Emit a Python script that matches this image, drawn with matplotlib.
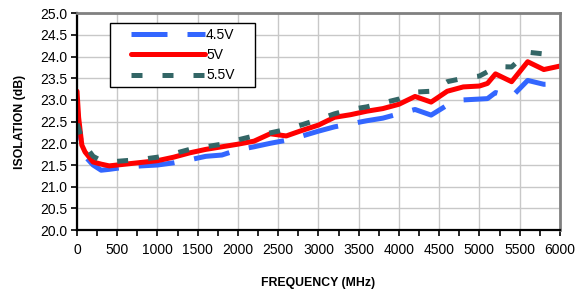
import matplotlib
matplotlib.use("Agg")
import matplotlib.pyplot as plt
from matplotlib.patches import Rectangle
from matplotlib.ticker import MultipleLocator

plt.rcParams['font.family'] = ['Liberation Sans', 'DejaVu Sans']

# frequency points (MHz)
freq = [0, 20, 60, 100, 200, 300, 400, 600, 800, 1000, 1200, 1400, 1600, 1800,
        2000, 2200, 2400, 2600, 2800, 3000, 3200, 3400, 3600, 3800, 4000,
        4200, 4400, 4600, 4800, 5000, 5100, 5200, 5400, 5600, 5800, 6000]

# isolation (dB) per supply voltage
iso_4v5 = [22.9, 22.4, 21.95, 21.7, 21.5, 21.38, 21.4, 21.45, 21.48, 21.5, 21.55,
           21.62, 21.7, 21.73, 21.85, 21.92, 22.0, 22.07, 22.17, 22.28, 22.38,
           22.45, 22.52, 22.58, 22.68, 22.78, 22.65, 22.88, 23.0, 23.02, 23.03,
           23.17, 23.07, 23.45, 23.36, 23.37]
iso_5v = [23.2, 22.6, 21.96, 21.8, 21.57, 21.52, 21.48, 21.52, 21.56, 21.6, 21.68,
          21.78, 21.86, 21.92, 21.98, 22.05, 22.22, 22.17, 22.3, 22.42, 22.6,
          22.66, 22.74, 22.8, 22.9, 23.08, 22.95, 23.2, 23.3, 23.32, 23.38,
          23.6, 23.42, 23.88, 23.7, 23.78]
iso_5v5 = [22.45, 22.35, 22.1, 21.95, 21.7, 21.6, 21.57, 21.6, 21.63, 21.68, 21.76,
           21.86, 21.92, 21.98, 22.08, 22.17, 22.24, 22.32, 22.43, 22.55, 22.68,
           22.78, 22.84, 22.93, 23.02, 23.18, 23.2, 23.42, 23.5, 23.55, 23.65,
           23.77, 23.76, 24.1, 24.06, 24.05]

fig = plt.figure(figsize=(5.79, 2.92), dpi=100)
ax = fig.add_axes([0.133, 0.212, 0.834, 0.743])

lw = 3.6
ax.plot(freq, iso_4v5, color='#3366FF', lw=lw, dashes=(7.2, 4.0), label='4.5V')
ax.plot(freq, iso_5v, color='#FF0000', lw=lw, solid_capstyle='round', label='5V')
ax.plot(freq, iso_5v5, color='#336666', lw=lw, dashes=(2.2, 4.0), label='5.5V')

ax.set_xlim(0, 6000)
ax.set_ylim(20.0, 25.0)
ax.xaxis.set_major_locator(MultipleLocator(500))
ax.xaxis.set_minor_locator(MultipleLocator(250))
ax.yaxis.set_major_locator(MultipleLocator(0.5))
ax.yaxis.set_major_formatter(plt.FormatStrFormatter('%.1f'))

ax.grid(True, which='major', color='#C8C8C8', lw=1.0)
ax.set_axisbelow(True)
ax.tick_params(axis='both', which='major', direction='out', length=4,
               width=1.2, labelsize=10, pad=3)
ax.tick_params(axis='x', which='major', pad=5)
ax.tick_params(axis='x', which='minor', direction='out', length=4, width=1.2)

for side in ['left', 'bottom']:
    ax.spines[side].set_color('black')
    ax.spines[side].set_linewidth(1.6)
for side in ['top', 'right']:
    ax.spines[side].set_color('#808080')
    ax.spines[side].set_linewidth(2.0)

ax.set_xlabel('FREQUENCY (MHz)', fontsize=8.8, fontweight='bold', labelpad=15)
ax.set_ylabel('ISOLATION (dB)', fontsize=8.8, fontweight='bold', labelpad=10)

# legend box drawn separately, like the Excel frame
ax.add_patch(Rectangle((0.068, 0.659), 0.3005, 0.295, transform=ax.transAxes,
                       facecolor='white', edgecolor='black', lw=1.0, zorder=4))
leg = ax.legend(loc='upper left', bbox_to_anchor=(0.112, 0.932), fontsize=10,
                handlelength=5.3, handletextpad=0.1, labelspacing=0.45,
                frameon=False, borderpad=0, borderaxespad=0)
leg.set_zorder(5)

fig.savefig('out.png', dpi=100)
